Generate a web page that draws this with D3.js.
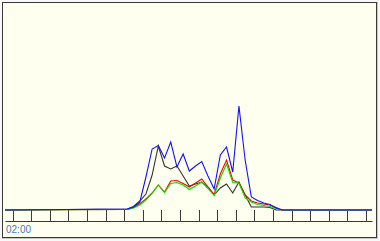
<!DOCTYPE html>
<html>
<head>
<meta charset="utf-8">
<script src="https://cdn.jsdelivr.net/npm/d3@7"></script>
<style>
  body { margin: 0; background: #f8f8f8; }
  svg { display: block; }
</style>
</head>
<body>
<svg id="chart" width="380" height="241"></svg>
<script>
// hours on the axis, one tick per hour
const tickHours = d3.range(0, 20);
const timeLabels = ['02:00'];

// samples every 20 minutes, starting at 6h10
const sampleStart = 6 + 1 / 6;
const sampleStep = 1 / 3;

const blueValues = [1, 3, 7.5, 33, 61, 64.5, 52, 68, 43, 56, 39, 44, 48.5, 34, 21, 55, 63, 38, 104, 50, 13, 9.5, 7, 5.5, 2, 0];
const blackValues = [1, 3.5, 9, 16, 35, 64, 44, 41, 44, 34, 24, 26, 28, 23, 15, 22, 26, 17, 28, 15, 3, 3, 3, 2.5, 0, 0];
const redValues = [0.5, 2.5, 6, 11, 17, 25, 18, 29, 29.5, 26.5, 23, 27, 31, 23, 15.5, 36, 50, 30, 27, 15, 9, 7, 6, 5, 2.5, 0];
const greenValues = [0.5, 2, 5, 10, 16.5, 25, 17.5, 26.5, 27.5, 25, 20.5, 24, 28, 21.5, 14.5, 32, 46, 27.5, 27, 12, 8, 5.5, 4.5, 3.5, 1.5, 0];

const series = [
  { name: 'black', color: '#333333', values: blackValues },
  { name: 'red', color: '#ff0000', values: redValues },
  { name: 'green', color: '#00e000', values: greenValues },
  { name: 'blue', color: '#1010ff', values: blueValues }
];

const svg = d3.select('#chart');

// panel
svg.append('rect')
  .attr('x', 2.5).attr('y', 2.5)
  .attr('width', 374).attr('height', 235)
  .attr('fill', '#fffff0')
  .attr('stroke', '#3a3a3a');
svg.append('path')
  .attr('d', 'M377.5,2 V238.5 H2')
  .attr('fill', 'none')
  .attr('stroke', '#c8c8c8');

const x = d3.scaleLinear()
  .domain([-0.41, 19.32])
  .range([5, 372]);

const y = d3.scaleLinear()
  .domain([0, 207])
  .range([210, 3]);

// axis with ticks pointing up to the baseline
const axisG = svg.append('g')
  .attr('transform', 'translate(0,221)')
  .call(d3.axisTop(x).tickValues(tickHours).tickSize(11).tickSizeOuter(0).tickFormat(''));
axisG.select('.domain').attr('stroke', '#3a3a3a');
axisG.selectAll('.tick line').attr('stroke', '#3a3a3a').attr('shape-rendering', 'crispEdges');

const line = d3.line()
  .x(d => x(d.t))
  .y(d => y(d.v));

series.forEach(s => {
  const pts = [{ t: x.domain()[0], v: 0 }];
  s.values.forEach((v, i) => pts.push({ t: sampleStart + i * sampleStep, v: v }));
  pts.push({ t: x.domain()[1], v: 0 });
  svg.append('path')
    .datum(pts)
    .attr('fill', 'none')
    .attr('stroke', s.color)
    .attr('stroke-width', 1.1)
    .attr('stroke-linejoin', 'miter')
    .attr('d', line);
});

svg.append('text')
  .attr('x', x.range()[0] + 1)
  .attr('y', 233)
  .attr('font-family', 'Liberation Sans, Arial, sans-serif')
  .attr('font-size', 10)
  .attr('fill', '#4a7ab8')
  .text(timeLabels[0]);
</script>
</body>
</html>
